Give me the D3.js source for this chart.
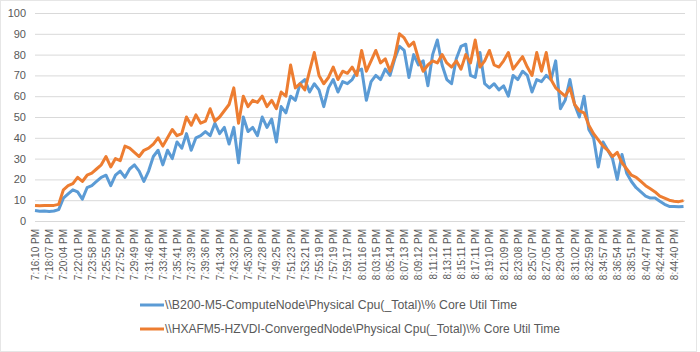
<!DOCTYPE html>
<html>
<head>
<meta charset="utf-8">
<script src="https://cdn.jsdelivr.net/npm/d3@7"></script>
<style>
	body { margin: 0; background: #fff; }
	#graphic text { font-family: 'Liberation Sans', Arial, sans-serif; fill: #595959; }
</style>
</head>
<body>
<div id="graphic"></div>
<script>
// one tick label every third sample
let tickLabels = ['7:16:10 PM', '7:18:07 PM', '7:20:04 PM', '7:22:01 PM', '7:23:58 PM', '7:25:55 PM',
	'7:27:52 PM', '7:29:49 PM', '7:31:46 PM', '7:33:44 PM', '7:35:41 PM', '7:37:39 PM', '7:39:36 PM',
	'7:41:34 PM', '7:43:32 PM', '7:45:30 PM', '7:47:28 PM', '7:49:25 PM', '7:51:23 PM', '7:53:21 PM',
	'7:55:19 PM', '7:57:19 PM', '7:59:17 PM', '8:01:16 PM', '8:03:15 PM', '8:05:14 PM', '8:07:13 PM',
	'8:09:12 PM', '8:11:12 PM', '8:13:11 PM', '8:15:11 PM', '8:17:11 PM', '8:19:10 PM', '8:21:09 PM',
	'8:23:08 PM', '8:25:07 PM', '8:27:05 PM', '8:29:04 PM', '8:31:02 PM', '8:32:59 PM', '8:34:57 PM',
	'8:36:54 PM', '8:38:51 PM', '8:40:47 PM', '8:42:44 PM', '8:44:40 PM'];

let seriesNames = ['\\\\B200-M5-ComputeNode\\Physical Cpu(_Total)\\% Core Util Time',
	'\\\\HXAFM5-HZVDI-ConvergedNode\\Physical Cpu(_Total)\\% Core Util Time'];

let computeNode = [5, 4.7, 4.8, 4.6, 4.8, 5.5, 11, 13, 15, 14, 10.5, 16, 17, 19, 21, 22, 17, 22, 24, 21,
	25, 27, 24, 19, 24, 31, 34, 27, 34, 30, 38, 35, 42, 34, 40, 41, 43, 41, 47, 42,
	45, 37, 45, 28, 50, 43, 45, 41, 50, 45, 49, 38, 55, 52, 60, 58, 66, 68, 62, 66,
	63, 55, 64, 68, 62, 67, 66, 68, 72, 73, 58, 67, 70, 68, 73, 70, 78, 84, 82, 69,
	80, 75, 77, 65, 80, 87, 75, 68, 66, 78, 84, 85, 70, 69, 81, 66, 64, 66, 63, 65,
	60, 70, 68, 72, 70, 62, 68, 67, 70, 68, 77, 54, 58, 68, 56, 50, 60, 44, 40, 26,
	38, 34, 30, 20, 32, 23, 19, 16, 14, 12, 11, 11, 9.5, 8, 7, 7, 6.8, 7];

let convergedNode = [7.5, 7.3, 7.5, 7.4, 7.5, 8, 15, 17, 18, 21, 19, 22, 23, 25, 27, 31, 26, 30, 29, 36,
	35, 33, 31, 34, 35, 37, 40, 36, 40, 44, 41, 42, 50, 46, 51, 47, 48, 54, 48, 50,
	53, 56, 64, 47, 60, 55, 58, 57, 60, 55, 58, 54, 62, 60, 75, 64, 66, 63, 72, 81,
	70, 66, 69, 74, 68, 72, 71, 74, 70, 82, 72, 77, 82, 76, 78, 72, 79, 90, 88, 84,
	86, 78, 72, 75, 77, 76, 80, 76, 74, 77, 73, 80, 76, 87, 74, 77, 82, 75, 74, 77,
	81, 73, 76, 79, 74, 70, 81, 72, 81, 68, 64, 62, 60, 64, 56, 53, 52, 46, 42, 39,
	36, 34, 31, 33, 28, 25, 22, 21, 19, 17, 15.5, 14, 12, 11, 10, 9.5, 9.3, 9.8];

let yTicks = [0, 10, 20, 30, 40, 50, 60, 70, 80, 90, 100];
let colours = ['#5b9bd5', '#ed7d31'];
let legendWidths = [352, 395];

let width = 700, height = 352;
let margin = { top: 13, right: 15, bottom: 131, left: 35 };
let chart_width = width - margin.left - margin.right;
let chart_height = height - margin.top - margin.bottom;

let svg = d3.select('#graphic')
	.append('svg')
	.attr('width', width)
	.attr('height', height);

// faint outer frame of the chart object
svg.append('rect')
	.attr('x', 0.5).attr('y', 0.5)
	.attr('width', width - 4).attr('height', height - 1)
	.attr('fill', 'none')
	.attr('stroke', '#e6e6e6');

let g = svg.append('g')
	.attr('transform', 'translate(' + margin.left + ',' + margin.top + ')');

let x = d3.scaleLinear()
	.domain([0, computeNode.length - 1])
	.range([0, chart_width - 1.5]);

let y = d3.scaleLinear()
	.domain([0, 100])
	.range([chart_height, 0]);

// gridlines + y labels
let yAxis = d3.axisLeft(y)
	.tickValues(yTicks)
	.tickSize(-chart_width)
	.tickPadding(9);

g.append('g')
	.attr('class', 'y axis')
	.call(yAxis)
	.call((a) => a.select('.domain').remove())
	.call((a) => a.selectAll('line').attr('stroke', '#d9d9d9'))
	.call((a) => a.selectAll('text').style('font-size', '11px'));

// x axis: a label at every third sample
let tickIdx = tickLabels.map((d, i) => i * 3);
let xAxis = d3.axisBottom(x)
	.tickValues(tickIdx)
	.tickSize(0)
	.tickFormat((d) => tickLabels[d / 3]);

g.append('g')
	.attr('class', 'x axis')
	.attr('transform', 'translate(0,' + chart_height + ')')
	.call(xAxis)
	.call((a) => a.select('.domain').attr('stroke', '#d9d9d9'))
	.selectAll('text')
	.style('font-size', '10px')
	.attr('transform', 'rotate(-90)')
	.attr('text-anchor', 'end')
	.attr('x', -8)
	.attr('y', 0)
	.attr('dy', '0.35em');

let line = d3.line()
	.x((d, i) => x(i))
	.y((d) => y(d));

[computeNode, convergedNode].forEach((s, i) => {
	g.append('path')
		.datum(s)
		.attr('fill', 'none')
		.attr('stroke', colours[i])
		.attr('stroke-width', 3)
		.attr('stroke-linejoin', 'round')
		.attr('d', line);
});

// legend
let legend = svg.append('g')
	.attr('transform', 'translate(140,305)');

seriesNames.forEach((name, i) => {
	let row = legend.append('g').attr('transform', 'translate(0,' + i * 24 + ')');
	row.append('line')
		.attr('x1', 0).attr('x2', 24)
		.attr('stroke', colours[i])
		.attr('stroke-width', 3);
	row.append('text')
		.attr('x', 25)
		.attr('dy', '0.35em')
		.attr('textLength', legendWidths[i])
		.attr('lengthAdjust', 'spacingAndGlyphs')
		.style('font-size', '12.5px')
		.text(name);
});
</script>
</body>
</html>
